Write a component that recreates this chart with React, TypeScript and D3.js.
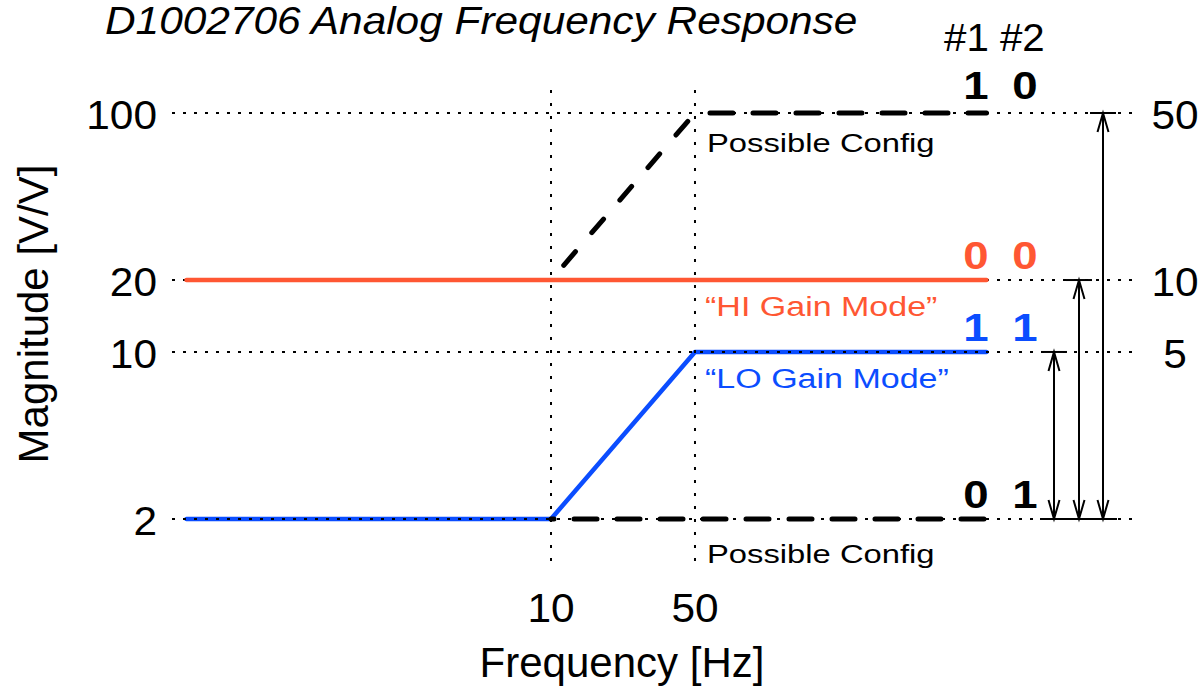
import React from "react";
import * as d3 from "d3";

// ---------- data ----------
const title = "D1002706 Analog Frequency Response";
const xLabel = "Frequency [Hz]";
const yLabel = "Magnitude [V/V]";
const xTicks = [10, 50];
const yTicks = [2, 10, 20, 100];
const freqStart = 0.17;
const freqEnd = 1300;

const hiGainF = [freqStart, freqEnd];
const hiGainV = [20, 20];
const loGainF = [freqStart, 10, 50, freqEnd];
const loGainV = [2, 2, 10, 10];
const cfgRiseF = [10, 50];
const cfgRiseV = [20, 100];
const cfgTopF = [50, freqEnd];
const cfgTopV = [100, 100];
const cfgLowF = [10, freqEnd];
const cfgLowV = [2, 2];

const ratioGains = [100, 20, 10];
const ratioLabels = ["50", "10", "5"];
const ratioBase = 2;

const codeGains = [100, 20, 10, 2];
const codeBit1 = ["1", "0", "1", "0"];
const codeBit2 = ["0", "0", "1", "1"];
const codeColors = ["#000000", "#ff5733", "#0b4dff", "#000000"];

const RED = "#ff5733";
const BLUE = "#0b4dff";
const FONT = "'Liberation Sans', Arial, Helvetica, sans-serif";

// ---------- helpers ----------
type TProps = {
  x: number; y: number; sx?: number; anchor?: string; size: number;
  weight?: string; italic?: boolean; fill?: string; children: React.ReactNode;
};
const T = ({ x, y, sx = 1, anchor = "start", size, weight = "normal", italic = false, fill = "#000", children }: TProps) => (
  <text
    transform={`translate(${x},${y}) scale(${sx},1)`}
    textAnchor={anchor as any}
    fontSize={size}
    fontWeight={weight}
    fontStyle={italic ? "italic" : "normal"}
    fontFamily={FONT}
    fill={fill}
  >
    {children}
  </text>
);

export default function App() {
  const W = 1204, H = 686;
  const x = d3.scaleLog().domain([0.1, 10000]).range([139, 1169]);
  const y = d3.scaleLog().domain([2, 100]).range([519, 113]);

  const line = (fs: number[], vs: number[]) =>
    d3.line<number>().x((_, i) => x(fs[i])).y((_, i) => y(vs[i]))(fs.map((_, i) => i)) || "";

  const gridX0 = 172, gridX1 = 1138;
  const vTop = 90, vBottom = 568;
  const arrowX = [1103, 1079, 1054];
  const colX1 = 976, colX2 = 1025;

  const arrowHead = (ax: number, ay: number, dir: number) =>
    `M${ax - 5.5},${ay + dir * 19} L${ax},${ay} L${ax + 5.5},${ay + dir * 19}`;

  return (
    <svg width={W} height={H} style={{ position: "absolute", left: 0, top: 0, background: "#fff" }}>
      <rect width={W} height={H} fill="#fff" />

      {/* title */}
      <T x={105} y={34} size={39} italic sx={1.087}>{title}</T>

      {/* column headers */}
      <T x={944} y={51} size={38} sx={1.06}>#1 #2</T>

      {/* blue LO gain line (under grid) */}
      <path d={line(loGainF, loGainV)} fill="none" stroke={BLUE} strokeWidth={4.5} strokeLinejoin="round" strokeLinecap="round" />

      {/* horizontal grid lines */}
      {yTicks.map((v) => (
        <line key={"g" + v} x1={gridX0} x2={gridX1} y1={y(v)} y2={y(v)} stroke="#000" strokeWidth={2} strokeDasharray="3 8" />
      ))}
      {/* vertical grid lines */}
      {xTicks.map((f) => (
        <line key={"v" + f} x1={x(f)} x2={x(f)} y1={vTop} y2={vBottom} stroke="#000" strokeWidth={2} strokeDasharray="3 10" />
      ))}

      {/* red HI gain line */}
      <path d={line(hiGainF, hiGainV)} fill="none" stroke={RED} strokeWidth={4.5} strokeLinecap="round" />

      {/* possible config dashed lines */}
      <path d={line(cfgRiseF, cfgRiseV)} fill="none" stroke="#000" strokeWidth={5} strokeLinecap="round" strokeDasharray="18 25" strokeDashoffset={23.5} />
      <path d={line(cfgTopF, cfgTopV)} fill="none" stroke="#000" strokeWidth={5} strokeLinecap="round" strokeDasharray="23 20" strokeDashoffset={28} />
      <path d={line(cfgLowF, cfgLowV)} fill="none" stroke="#000" strokeWidth={5} strokeLinecap="round" strokeDasharray="23 20" strokeDashoffset={20} />

      {/* y tick labels */}
      {yTicks.map((v) => (
        <T key={"yt" + v} x={157} y={y(v) + 16} size={40} anchor="end" sx={1.06}>{String(v)}</T>
      ))}
      {/* x tick labels */}
      {xTicks.map((f) => (
        <T key={"xt" + f} x={x(f)} y={622} size={40} anchor="middle" sx={1.06}>{String(f)}</T>
      ))}

      {/* axis titles */}
      <T x={622} y={677} size={42} anchor="middle">{xLabel}</T>
      <text transform="translate(48,314) rotate(-90)" textAnchor="middle" fontSize={42} fontFamily={FONT} fill="#000">{yLabel}</text>

      {/* annotations */}
      <T x={707} y={y(100) + 39} size={26} sx={1.26}>Possible Config</T>
      <T x={707} y={y(2) + 44} size={26} sx={1.26}>Possible Config</T>
      <T x={705} y={y(20) + 36} size={28} sx={1.215} fill={RED}>“HI Gain Mode”</T>
      <T x={705} y={y(10) + 36} size={28} sx={1.215} fill={BLUE}>“LO Gain Mode”</T>

      {/* bit codes */}
      {codeGains.map((g, i) => (
        <g key={"c" + g}>
          <T x={colX1} y={y(g) - (i === 0 ? 14 : 11)} size={38} weight="bold" anchor="middle" sx={1.2} fill={codeColors[i]}>{codeBit1[i]}</T>
          <T x={colX2} y={y(g) - (i === 0 ? 14 : 11)} size={38} weight="bold" anchor="middle" sx={1.2} fill={codeColors[i]}>{codeBit2[i]}</T>
        </g>
      ))}

      {/* ratio arrows */}
      {ratioGains.map((g, i) => {
        const ax = arrowX[i];
        const yt = y(g), yb = y(ratioBase);
        return (
          <g key={"a" + g} stroke="#000" strokeWidth={2} fill="none">
            <line x1={ax} x2={ax} y1={yt} y2={yb} />
            <line x1={ax - 13} x2={ax + 13} y1={yt} y2={yt} />
            <path d={arrowHead(ax, yt, 1)} />
            <path d={arrowHead(ax, yb, -1)} />
          </g>
        );
      })}
      <line x1={1040} x2={1117} y1={y(ratioBase)} y2={y(ratioBase)} stroke="#000" strokeWidth={2} />

      {/* ratio labels */}
      {ratioGains.map((g, i) => (
        <T key={"r" + g} x={1175} y={y(g) + 16} size={40} anchor="middle" sx={1.06}>{ratioLabels[i]}</T>
      ))}
    </svg>
  );
}
